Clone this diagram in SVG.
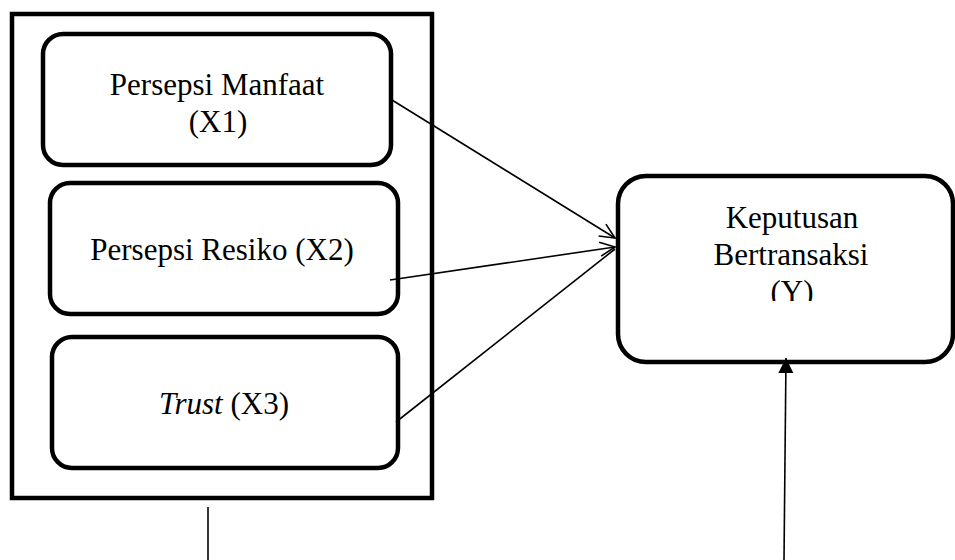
<svg xmlns="http://www.w3.org/2000/svg" width="955" height="560" viewBox="0 0 955 560">
<defs>
<style>
.box{fill:#fff;stroke:#000;stroke-width:4.5}
.t{font-family:"Liberation Serif","Times New Roman",serif;font-size:31px;fill:#000;text-anchor:middle}
.c{stroke:#000;stroke-width:1.6;fill:none}
</style>
<marker id="open" viewBox="-16 -8 18 16" markerWidth="18" markerHeight="16" refX="0" refY="0" orient="auto" markerUnits="userSpaceOnUse">
<path d="M-15,-7 L0,0 L-15,7" fill="none" stroke="#000" stroke-width="1.6"/>
</marker>
<marker id="solid" viewBox="-16 -8 17 16" markerWidth="17" markerHeight="16" refX="0" refY="0" orient="auto" markerUnits="userSpaceOnUse">
<path d="M-15,-7.5 L0,0 L-15,7.5 Z" fill="#000"/>
</marker>
<clipPath id="clipY"><rect x="620" y="178" width="330" height="123"/></clipPath>
</defs>
<rect width="955" height="560" fill="#fff"/>
<g id="group-x">
<rect x="12" y="14" width="420" height="484" fill="#fff" stroke="#000" stroke-width="4.5"/>
</g>
<g id="x1">
<rect class="box" x="43" y="34" width="348" height="131" rx="20"/>
<text class="t" x="217" y="95">Persepsi Manfaat</text>
<text class="t" x="218" y="132">(X1)</text>
</g>
<g id="x2">
<rect class="box" x="50" y="183" width="348" height="131" rx="20"/>
<text class="t" x="222" y="260">Persepsi Resiko (X2)</text>
</g>
<g id="x3">
<rect class="box" x="52" y="337" width="346" height="131" rx="20"/>
<text class="t" x="224" y="414"><tspan font-style="italic">Trust</tspan> (X3)</text>
</g>
<g id="y">
<rect class="box" x="618" y="176" width="335" height="186" rx="28"/>
<text class="t" x="792" y="228">Keputusan</text>
<text class="t" x="791" y="265">Bertransaksi</text>
<text class="t" x="792" y="302" clip-path="url(#clipY)">(Y)</text>
</g>
<g id="connectors">
<line class="c" x1="392" y1="100" x2="615" y2="238" marker-end="url(#open)"/>
<line class="c" x1="390" y1="280" x2="615" y2="247" marker-end="url(#open)"/>
<line class="c" x1="396" y1="422" x2="615" y2="249"/>
<line class="c" x1="208" y1="507" x2="208" y2="560"/>
<line class="c" x1="784" y1="560" x2="786" y2="358" marker-end="url(#solid)"/>
</g>
</svg>
